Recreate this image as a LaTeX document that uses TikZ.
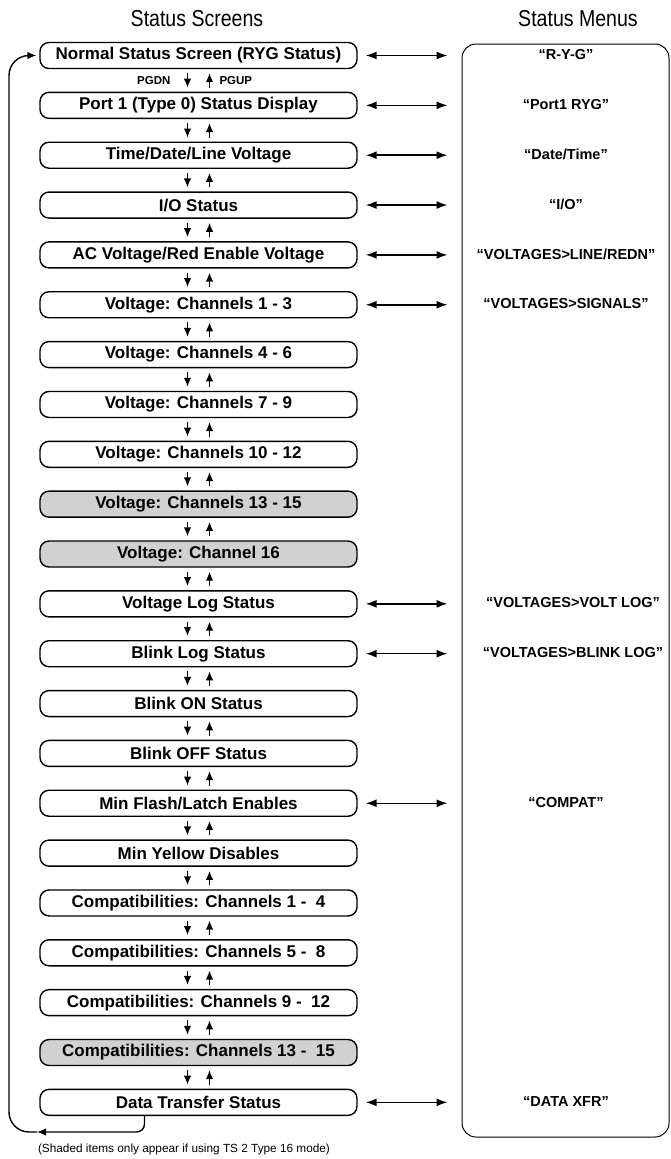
\documentclass[tikz,border=0pt]{standalone}
\usepackage{fontspec}
\setmainfont{Liberation Sans}
\usetikzlibrary{arrows.meta,calc}
\begin{document}
\begin{tikzpicture}[x=1pt,y=-1pt,
  scr/.style={draw,line width=1.4pt,rounded corners=9pt,minimum width=317pt,minimum height=26pt,inner sep=0pt,font=\bfseries\fontsize{17}{19}\selectfont},
  shaded/.style={scr,fill=black!18},
  menu/.style={font=\bfseries\fontsize{14.5}{16}\selectfont},
  tip/.style={-{Latex[length=9pt,width=7.5pt]}},
  nav/.style={line width=1.4pt,tip},
  link/.style={line width=1.5pt,{Latex[length=11pt,width=8pt]}-{Latex[length=11pt,width=8pt]}},
  head/.style={font=\fontsize{23}{25}\selectfont},
  pg/.style={font=\bfseries\fontsize{11.5}{13}\selectfont}
]
\useasboundingbox (0,0) rectangle (671,1159);

\node[head] (hs) at (197,19) {\scalebox{0.85}[1]{Status Screens}};
\node[head] (hm) at (578,19) {\scalebox{0.85}[1]{Status Menus}};

\node[scr] (b0) at (198.5,55.5) {Normal Status Screen (RYG Status)};
\node[scr] (b1) at (198.5,105.35) {Port 1 (Type 0) Status Display};
\node[scr] (b2) at (198.5,155.2) {Time/Date/Line Voltage};
\node[scr] (b3) at (198.5,205.05) {I/O Status};
\node[scr] (b4) at (198.5,254.9) {AC Voltage/Red Enable Voltage};
\node[scr] (b5) at (198.5,304.75) {Voltage: Channels 1 - 3};
\node[scr] (b6) at (198.5,354.6) {Voltage: Channels 4 - 6};
\node[scr] (b7) at (198.5,404.45) {Voltage: Channels 7 - 9};
\node[scr] (b8) at (198.5,454.3) {Voltage: Channels 10 - 12};
\node[shaded] (b9) at (198.5,504.15) {Voltage: Channels 13 - 15};
\node[shaded] (b10) at (198.5,554.0) {Voltage: Channel 16};
\node[scr] (b11) at (198.5,603.85) {Voltage Log Status};
\node[scr] (b12) at (198.5,653.7) {Blink Log Status};
\node[scr] (b13) at (198.5,703.55) {Blink ON Status};
\node[scr] (b14) at (198.5,753.4) {Blink OFF Status};
\node[scr] (b15) at (198.5,803.25) {Min Flash/Latch Enables};
\node[scr] (b16) at (198.5,853.1) {Min Yellow Disables};
\node[scr] (b17) at (198.5,902.95) {Compatibilities: Channels 1 -\ \ 4};
\node[scr] (b18) at (198.5,952.8) {Compatibilities: Channels 5 -\ \ 8};
\node[scr] (b19) at (198.5,1002.65) {Compatibilities: Channels 9 -\ \ 12};
\node[shaded] (b20) at (198.5,1052.5) {Compatibilities: Channels 13 -\ \ 15};
\node[scr] (b21) at (198.5,1102.35) {Data Transfer Status};

\foreach \i [evaluate=\i as \j using int(\i+1)] in {0,...,20} {
  \draw[nav] ([xshift=-11pt,yshift=-4pt]b\i.south) -- ([xshift=-11pt,yshift=4pt]b\j.north);
  \draw[nav] ([xshift=11pt,yshift=4pt]b\j.north) -- ([xshift=11pt,yshift=-4pt]b\i.south);
}
\node[pg,anchor=east] (pgdn) at (174,80.5) {PGDN};
\node[pg,anchor=west] (pgup) at (216,80.5) {PGUP};

\node[draw,line width=1pt,rounded corners=14pt,minimum width=207pt,minimum height=1093pt,inner sep=0pt] (menus) at (565.5,590.5) {};

\node[menu] (m0) at (566,54.5) {“R-Y-G”};
\node[menu] (m1) at (566,104.35) {“Port1 RYG”};
\node[menu] (m2) at (566,154.2) {“Date/Time”};
\node[menu] (m3) at (566,204.05) {“I/O”};
\node[menu] (m4) at (566,253.9) {“VOLTAGES>LINE/REDN”};
\node[menu] (m5) at (566,303.75) {“VOLTAGES>SIGNALS”};
\node[menu] (m11) at (573,602.85) {“VOLTAGES>VOLT LOG”};
\node[menu] (m12) at (573,652.7) {“VOLTAGES>BLINK LOG”};
\node[menu] (m15) at (566,802.25) {“COMPAT”};
\node[menu] (m21) at (566,1101.35) {“DATA XFR”};

\foreach \i in {0,1,2,3,4,5,11,12,15,21} {
  \draw[link] ([xshift=8pt]b\i.east) -- ([xshift=-14pt]b\i.east -| menus.west);
}

\coordinate (lb) at (37,1132);
\coordinate (lc) at (9,55.5);
\draw[line width=1.4pt,rounded corners=8pt,tip] ([xshift=-54pt]b21.south) |- (lb);
\draw[line width=1.4pt,rounded corners=20pt,tip] (lb) -| (lc) -- ([xshift=-3pt]b0.west);

\node[font=\fontsize{11.8}{14}\selectfont] (note) at (184,1149) {(Shaded items only appear if using TS 2 Type 16 mode)};
\end{tikzpicture}
\end{document}
